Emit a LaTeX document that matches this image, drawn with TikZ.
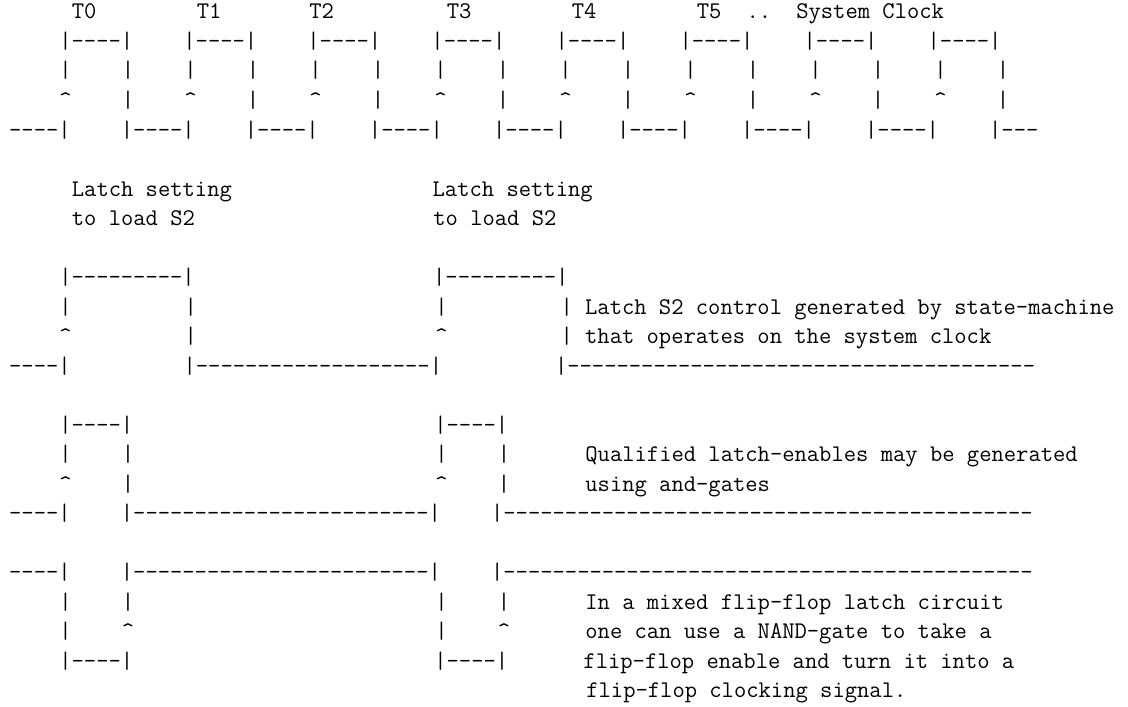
\documentclass[tikz,border=0pt]{standalone}
\usepackage{fontspec}
\newlength\cw
\setlength\cw{6.274pt}
\newcommand{\blanks}[1]{\hspace*{#1\cw}}
\newcommand{\rise}{\textasciicircum}
\tikzset{
  ascii/.style={anchor=base west, inner sep=0pt, font=\fontsize{11.95}{14}\selectfont\ttfamily},
}
\begin{document}
\begin{tikzpicture}[x=0.5pt, y=-0.5pt]
  \useasboundingbox (0,0) rectangle (1128,706);
  % system clock
  \node[ascii] (clk0) at (8.75,19) {\blanks{5}T0\blanks{8}T1\blanks{7}T2\blanks{9}T3\blanks{8}T4\blanks{8}T5\blanks{2}..\blanks{2}System Clock};
  \node[ascii] (clk1) at (8.75,48.5) {\blanks{4}|----|\blanks{4}|----|\blanks{4}|----|\blanks{4}|----|\blanks{4}|----|\blanks{4}|----|\blanks{4}|----|\blanks{4}|----|};
  \node[ascii] (clk2) at (8.75,78) {\blanks{4}|\blanks{4}|\blanks{4}|\blanks{4}|\blanks{4}|\blanks{4}|\blanks{4}|\blanks{4}|\blanks{4}|\blanks{4}|\blanks{4}|\blanks{4}|\blanks{4}|\blanks{4}|\blanks{4}|\blanks{4}|};
  \node[ascii] (clk3) at (8.75,107.5) {\blanks{4}\rise\blanks{4}|\blanks{4}\rise\blanks{4}|\blanks{4}\rise\blanks{4}|\blanks{4}\rise\blanks{4}|\blanks{4}\rise\blanks{4}|\blanks{4}\rise\blanks{4}|\blanks{4}\rise\blanks{4}|\blanks{4}\rise\blanks{4}|};
  \node[ascii] (clk4) at (8.75,137) {----|\blanks{4}|----|\blanks{4}|----|\blanks{4}|----|\blanks{4}|----|\blanks{4}|----|\blanks{4}|----|\blanks{4}|----|\blanks{4}|---};
  % latch control
  \node[ascii] (set1) at (8.75,196) {\blanks{5}Latch setting\blanks{16}Latch setting};
  \node[ascii] (set2) at (8.75,225.5) {\blanks{5}to load S2\blanks{19}to load S2};
  \node[ascii] (ctl1) at (8.75,284.5) {\blanks{4}|---------|\blanks{19}|---------|};
  \node[ascii] (ctl2) at (8.75,314) {\blanks{4}|\blanks{9}|\blanks{19}|\blanks{9}| Latch S2 control generated by state-machine};
  \node[ascii] (ctl3) at (8.75,343.5) {\blanks{4}\rise\blanks{9}|\blanks{19}\rise\blanks{9}| that operates on the system clock};
  \node[ascii] (ctl4) at (8.75,373) {----|\blanks{9}|-------------------|\blanks{9}|--------------------------------------};
  % qualified enables
  \node[ascii] (en1) at (8.75,432) {\blanks{4}|----|\blanks{24}|----|};
  \node[ascii] (en2) at (8.75,461.5) {\blanks{4}|\blanks{4}|\blanks{24}|\blanks{4}|\blanks{6}Qualified latch-enables may be generated};
  \node[ascii] (en3) at (8.75,491) {\blanks{4}\rise\blanks{4}|\blanks{24}\rise\blanks{4}|\blanks{6}using and-gates};
  \node[ascii] (en4) at (8.75,520.5) {----|\blanks{4}|------------------------|\blanks{4}|-------------------------------------------};
  % nand clocking
  \node[ascii] (nd1) at (8.75,579.5) {----|\blanks{4}|------------------------|\blanks{4}|-------------------------------------------};
  \node[ascii] (nd2) at (8.75,609) {\blanks{4}|\blanks{4}|\blanks{24}|\blanks{4}|\blanks{6}In a mixed flip-flop latch circuit};
  \node[ascii] (nd3) at (8.75,638.5) {\blanks{4}|\blanks{4}\rise\blanks{24}|\blanks{4}\rise\blanks{6}one can use a NAND-gate to take a};
  \node[ascii] (nd4) at (8.75,668) {\blanks{4}|----|\blanks{24}|----|\blanks{6}flip-flop enable and turn it into a};
  \node[ascii] (nd5) at (8.75,697.5) {\blanks{46}flip-flop clocking signal.};
\end{tikzpicture}
\end{document}
